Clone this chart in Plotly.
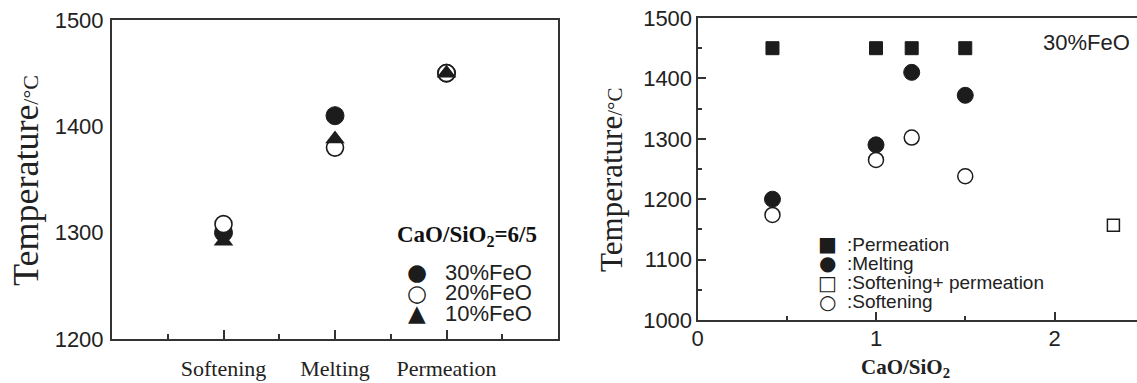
import plotly.graph_objects as go

W, H = 1137, 383

# ---------------- data: left panel ----------------
stages = ["Softening", "Melting", "Permeation"]
stage_pos = [2, 4, 6]
feo30 = [1300, 1410, 1450]
feo20 = [1308, 1380, 1450]
feo10 = [1292, 1388, 1450]
left_yticks = [1200, 1300, 1400, 1500]

# ---------------- data: right panel ----------------
basicity = [0.42, 1.0, 1.2, 1.5]
permeation = [1450, 1450, 1450, 1450]
melting = [1200, 1290, 1410, 1372]
softening = [1174, 1265, 1302, 1238]
soft_perm_x = [2.33]
soft_perm_y = [1157]
right_xticks = [0, 1, 2]
right_yticks = [1000, 1100, 1200, 1300, 1400, 1500]

SANS = "Liberation Sans, Arial, sans-serif"
SERIF = "Liberation Serif, Times New Roman, serif"
INK = "#1c1c1c"
AX = "#333333"


def px(x):
    return x / W


def py(y):
    return 1 - y / H


fig = go.Figure()

# left panel traces
fig.add_trace(go.Scatter(x=stage_pos, y=feo30, mode="markers", name="30%FeO",
                         marker=dict(symbol="circle", size=18, color=INK,
                                     line=dict(color=INK, width=1)),
                         xaxis="x", yaxis="y"))
fig.add_trace(go.Scatter(x=stage_pos, y=feo20, mode="markers", name="20%FeO",
                         marker=dict(symbol="circle", size=17, color="white",
                                     line=dict(color=INK, width=1.6)),
                         xaxis="x", yaxis="y"))
fig.add_trace(go.Scatter(x=stage_pos, y=feo10, mode="markers", name="10%FeO",
                         marker=dict(symbol="triangle-up", size=17, color=INK,
                                     line=dict(color=INK, width=0)),
                         xaxis="x", yaxis="y"))

# right panel traces
fig.add_trace(go.Scatter(x=basicity, y=permeation, mode="markers", name=":Permeation",
                         marker=dict(symbol="square", size=13, color=INK,
                                     line=dict(color=INK, width=1)),
                         xaxis="x2", yaxis="y2"))
fig.add_trace(go.Scatter(x=basicity, y=melting, mode="markers", name=":Melting",
                         marker=dict(symbol="circle", size=16, color=INK,
                                     line=dict(color=INK, width=1)),
                         xaxis="x2", yaxis="y2"))
fig.add_trace(go.Scatter(x=soft_perm_x, y=soft_perm_y, mode="markers",
                         name=":Softening+ permeation",
                         marker=dict(symbol="square", size=12, color="white",
                                     line=dict(color=INK, width=1.5)),
                         xaxis="x2", yaxis="y2"))
fig.add_trace(go.Scatter(x=basicity, y=softening, mode="markers", name=":Softening",
                         marker=dict(symbol="circle", size=15, color="white",
                                     line=dict(color=INK, width=1.5)),
                         xaxis="x2", yaxis="y2"))

common_axis = dict(showgrid=False, zeroline=False, showline=True,
                   linecolor=AX, linewidth=2, automargin=False)

fig.update_layout(
    template="none",
    width=W, height=H,
    margin=dict(l=0, r=0, t=0, b=0, pad=0, autoexpand=False),
    paper_bgcolor="white", plot_bgcolor="white",
    showlegend=False,
    xaxis=dict(**common_axis, domain=[px(112), px(558)], range=[0, 8],
               mirror=True, anchor="y",
               tickmode="array", tickvals=stage_pos, ticktext=stages,
               ticks="inside", ticklen=9, tickwidth=1.5, tickcolor=AX,
               minor=dict(tickmode="array", tickvals=[1, 3, 5, 7],
                          ticks="inside", ticklen=5, tickwidth=1.5, tickcolor=AX),
               tickfont=dict(family=SERIF, size=22, color="#222"),
               ticklabelstandoff=9),
    yaxis=dict(**common_axis, domain=[py(339), py(20)], range=[1200, 1500],
               mirror=True, anchor="x",
               tickmode="array", tickvals=left_yticks, ticks="",
               tickfont=dict(family=SANS, size=22, color="#222"),
               ticklabelstandoff=2),
    xaxis2=dict(**common_axis, domain=[px(697.5), 1.0], range=[0, (W - 697.5) / 178.5],
                mirror=True, anchor="y2",
                tickmode="array", tickvals=right_xticks,
                ticks="inside", ticklen=8, tickwidth=1.5, tickcolor=AX,
                minor=dict(tickmode="array", tickvals=[0.5, 1.5],
                           ticks="inside", ticklen=4, tickwidth=1.5, tickcolor=AX),
                tickfont=dict(family=SANS, size=22, color="#222"),
                ticklabelstandoff=-2),
    yaxis2=dict(**common_axis, domain=[py(320), py(18)], range=[1000, 1500],
                mirror=False, anchor="x2",
                tickmode="array", tickvals=right_yticks,
                ticks="inside", ticklen=8, tickwidth=1.5, tickcolor=AX,
                minor=dict(tickmode="array", tickvals=[1050, 1150, 1250, 1350, 1450],
                           ticks="inside", ticklen=4, tickwidth=1.5, tickcolor=AX),
                tickfont=dict(family=SANS, size=22, color="#222"),
                ticklabelstandoff=-1),
)

ann = []


def note(x, y, text, font, xanchor="center", angle=0):
    ann.append(dict(x=px(x), y=py(y), xref="paper", yref="paper", text=text,
                    showarrow=False, xanchor=xanchor, yanchor="middle",
                    textangle=angle, font=font))


# y-axis titles
note(26, 181, "Temperature<span style='font-size:22px'>/°C</span>",
     dict(family=SERIF, size=36, color="#222"), angle=-90)
note(611, 180, "Temperature<span style='font-size:21px'>/°C</span>",
     dict(family=SERIF, size=31, color="#222"), angle=-90)
# right x-axis title
note(905, 368, "<b>CaO/SiO<sub>2</sub></b>", dict(family=SERIF, size=21, color="#222"))
# right panel label
note(1086, 42, "30%FeO", dict(family=SANS, size=22, color="#222"))

# left legend
note(467, 236, "<b>CaO/SiO<sub>2</sub>=6/5</b>", dict(family=SERIF, size=23, color="#111"))
left_leg = [("●", "30%FeO"), ("○", "20%FeO"), ("▲", "10%FeO")]
for i, (g, t) in enumerate(left_leg):
    yy = 272 + i * 20.5
    note(417, yy, g, dict(family="DejaVu Sans", size=23, color=INK))
    note(443, yy, t, dict(family=SANS, size=22, color="#222"), xanchor="left")

# right legend
right_leg = [("■", ":Permeation"), ("●", ":Melting"),
             ("□", ":Softening+ permeation"), ("○", ":Softening")]
for i, (g, t) in enumerate(right_leg):
    yy = 244 + i * 19.3
    note(827, yy, g, dict(family="DejaVu Sans", size=20, color=INK))
    note(845, yy, t, dict(family=SANS, size=19, color="#222"), xanchor="left")

fig.update_layout(annotations=ann)
fig.write_html("out.html", config={"displayModeBar": False},
               post_script="document.body.style.margin='0px';")
